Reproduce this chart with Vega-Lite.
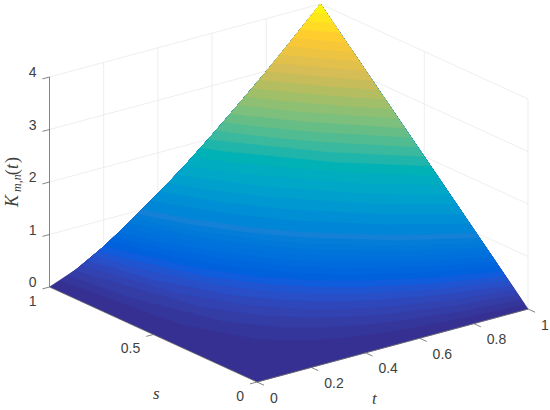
{"$schema":"https://vega.github.io/schema/vega-lite/v6.json","width":550,"height":410,"padding":0,"autosize":"none","background":"white","config":{"view":{"stroke":null}},
"data":{"values":[
{"c":0,"t":0,"s":0,"K":0},{"c":0,"t":1,"s":0,"K":0},{"c":0,"t":1,"s":1,"K":4},{"c":0,"t":0.9,"s":1,"K":3.49},{"c":0,"t":0.8,"s":1,"K":2.99},{"c":0,"t":0.7,"s":1,"K":2.52},{"c":0,"t":0.6,"s":1,"K":2.06},{"c":0,"t":0.5,"s":1,"K":1.62},{"c":0,"t":0.4,"s":1,"K":1.22},{"c":0,"t":0.3,"s":1,"K":0.84},{"c":0,"t":0.2,"s":1,"K":0.49},{"c":0,"t":0.1,"s":1,"K":0.2},{"c":0,"t":0,"s":1,"K":0},
{"c":0.5,"t":1,"s":0.016,"K":0.0625},{"c":0.5,"t":0.8,"s":0.034,"K":0.0625},{"c":0.5,"t":0.6,"s":0.065,"K":0.0625},{"c":0.5,"t":0.5,"s":0.089,"K":0.0625},{"c":0.5,"t":0.4,"s":0.124,"K":0.0625},{"c":0.5,"t":0.3,"s":0.175,"K":0.0625},{"c":0.5,"t":0.2,"s":0.266,"K":0.0625},{"c":0.5,"t":0.1,"s":0.49,"K":0.0625},{"c":0.5,"t":0.0408,"s":1,"K":0.0625},{"c":0.5,"t":0.1,"s":1,"K":0.2},{"c":0.5,"t":0.2,"s":1,"K":0.49},{"c":0.5,"t":0.3,"s":1,"K":0.84},{"c":0.5,"t":0.4,"s":1,"K":1.22},{"c":0.5,"t":0.5,"s":1,"K":1.62},{"c":0.5,"t":0.6,"s":1,"K":2.06},{"c":0.5,"t":0.7,"s":1,"K":2.52},{"c":0.5,"t":0.8,"s":1,"K":2.99},{"c":0.5,"t":0.9,"s":1,"K":3.49},{"c":0.5,"t":1,"s":1,"K":4},
{"c":1,"t":1,"s":0.031,"K":0.125},{"c":1,"t":0.8,"s":0.062,"K":0.125},{"c":1,"t":0.6,"s":0.113,"K":0.125},{"c":1,"t":0.5,"s":0.15,"K":0.125},{"c":1,"t":0.4,"s":0.202,"K":0.125},{"c":1,"t":0.3,"s":0.279,"K":0.125},{"c":1,"t":0.2,"s":0.414,"K":0.125},{"c":1,"t":0.1,"s":0.749,"K":0.125},{"c":1,"t":0.0695,"s":1,"K":0.125},{"c":1,"t":0.1,"s":1,"K":0.2},{"c":1,"t":0.2,"s":1,"K":0.49},{"c":1,"t":0.3,"s":1,"K":0.84},{"c":1,"t":0.4,"s":1,"K":1.22},{"c":1,"t":0.5,"s":1,"K":1.62},{"c":1,"t":0.6,"s":1,"K":2.06},{"c":1,"t":0.7,"s":1,"K":2.52},{"c":1,"t":0.8,"s":1,"K":2.99},{"c":1,"t":0.9,"s":1,"K":3.49},{"c":1,"t":1,"s":1,"K":4},
{"c":1.5,"t":1,"s":0.047,"K":0.1875},{"c":1.5,"t":0.8,"s":0.088,"K":0.1875},{"c":1.5,"t":0.6,"s":0.154,"K":0.1875},{"c":1.5,"t":0.5,"s":0.202,"K":0.1875},{"c":1.5,"t":0.4,"s":0.268,"K":0.1875},{"c":1.5,"t":0.3,"s":0.367,"K":0.1875},{"c":1.5,"t":0.2,"s":0.538,"K":0.1875},{"c":1.5,"t":0.1,"s":0.96,"K":0.1875},{"c":1.5,"t":0.095,"s":1,"K":0.1875},{"c":1.5,"t":0.1,"s":1,"K":0.2},{"c":1.5,"t":0.2,"s":1,"K":0.49},{"c":1.5,"t":0.3,"s":1,"K":0.84},{"c":1.5,"t":0.4,"s":1,"K":1.22},{"c":1.5,"t":0.5,"s":1,"K":1.62},{"c":1.5,"t":0.6,"s":1,"K":2.06},{"c":1.5,"t":0.7,"s":1,"K":2.52},{"c":1.5,"t":0.8,"s":1,"K":2.99},{"c":1.5,"t":0.9,"s":1,"K":3.49},{"c":1.5,"t":1,"s":1,"K":4},
{"c":2,"t":1,"s":0.063,"K":0.25},{"c":2,"t":0.8,"s":0.114,"K":0.25},{"c":2,"t":0.6,"s":0.192,"K":0.25},{"c":2,"t":0.5,"s":0.25,"K":0.25},{"c":2,"t":0.4,"s":0.329,"K":0.25},{"c":2,"t":0.3,"s":0.445,"K":0.25},{"c":2,"t":0.2,"s":0.647,"K":0.25},{"c":2,"t":0.1185,"s":1,"K":0.25},{"c":2,"t":0.2,"s":1,"K":0.49},{"c":2,"t":0.3,"s":1,"K":0.84},{"c":2,"t":0.4,"s":1,"K":1.22},{"c":2,"t":0.5,"s":1,"K":1.62},{"c":2,"t":0.6,"s":1,"K":2.06},{"c":2,"t":0.7,"s":1,"K":2.52},{"c":2,"t":0.8,"s":1,"K":2.99},{"c":2,"t":0.9,"s":1,"K":3.49},{"c":2,"t":1,"s":1,"K":4},
{"c":2.5,"t":1,"s":0.078,"K":0.3125},{"c":2.5,"t":0.8,"s":0.138,"K":0.3125},{"c":2.5,"t":0.6,"s":0.229,"K":0.3125},{"c":2.5,"t":0.5,"s":0.295,"K":0.3125},{"c":2.5,"t":0.4,"s":0.384,"K":0.3125},{"c":2.5,"t":0.3,"s":0.516,"K":0.3125},{"c":2.5,"t":0.2,"s":0.746,"K":0.3125},{"c":2.5,"t":0.1407,"s":1,"K":0.3125},{"c":2.5,"t":0.2,"s":1,"K":0.49},{"c":2.5,"t":0.3,"s":1,"K":0.84},{"c":2.5,"t":0.4,"s":1,"K":1.22},{"c":2.5,"t":0.5,"s":1,"K":1.62},{"c":2.5,"t":0.6,"s":1,"K":2.06},{"c":2.5,"t":0.7,"s":1,"K":2.52},{"c":2.5,"t":0.8,"s":1,"K":2.99},{"c":2.5,"t":0.9,"s":1,"K":3.49},{"c":2.5,"t":1,"s":1,"K":4},
{"c":3,"t":1,"s":0.094,"K":0.375},{"c":3,"t":0.8,"s":0.161,"K":0.375},{"c":3,"t":0.6,"s":0.264,"K":0.375},{"c":3,"t":0.5,"s":0.338,"K":0.375},{"c":3,"t":0.4,"s":0.437,"K":0.375},{"c":3,"t":0.3,"s":0.583,"K":0.375},{"c":3,"t":0.2,"s":0.839,"K":0.375},{"c":3,"t":0.1619,"s":1,"K":0.375},{"c":3,"t":0.2,"s":1,"K":0.49},{"c":3,"t":0.3,"s":1,"K":0.84},{"c":3,"t":0.4,"s":1,"K":1.22},{"c":3,"t":0.5,"s":1,"K":1.62},{"c":3,"t":0.6,"s":1,"K":2.06},{"c":3,"t":0.7,"s":1,"K":2.52},{"c":3,"t":0.8,"s":1,"K":2.99},{"c":3,"t":0.9,"s":1,"K":3.49},{"c":3,"t":1,"s":1,"K":4},
{"c":3.5,"t":1,"s":0.109,"K":0.4375},{"c":3.5,"t":0.8,"s":0.185,"K":0.4375},{"c":3.5,"t":0.6,"s":0.298,"K":0.4375},{"c":3.5,"t":0.5,"s":0.378,"K":0.4375},{"c":3.5,"t":0.4,"s":0.487,"K":0.4375},{"c":3.5,"t":0.3,"s":0.647,"K":0.4375},{"c":3.5,"t":0.2,"s":0.926,"K":0.4375},{"c":3.5,"t":0.1823,"s":1,"K":0.4375},{"c":3.5,"t":0.2,"s":1,"K":0.49},{"c":3.5,"t":0.3,"s":1,"K":0.84},{"c":3.5,"t":0.4,"s":1,"K":1.22},{"c":3.5,"t":0.5,"s":1,"K":1.62},{"c":3.5,"t":0.6,"s":1,"K":2.06},{"c":3.5,"t":0.7,"s":1,"K":2.52},{"c":3.5,"t":0.8,"s":1,"K":2.99},{"c":3.5,"t":0.9,"s":1,"K":3.49},{"c":3.5,"t":1,"s":1,"K":4},
{"c":4,"t":1,"s":0.125,"K":0.5},{"c":4,"t":0.8,"s":0.208,"K":0.5},{"c":4,"t":0.6,"s":0.331,"K":0.5},{"c":4,"t":0.5,"s":0.418,"K":0.5},{"c":4,"t":0.4,"s":0.535,"K":0.5},{"c":4,"t":0.3,"s":0.708,"K":0.5},{"c":4,"t":0.202,"s":1,"K":0.5},{"c":4,"t":0.3,"s":1,"K":0.84},{"c":4,"t":0.4,"s":1,"K":1.22},{"c":4,"t":0.5,"s":1,"K":1.62},{"c":4,"t":0.6,"s":1,"K":2.06},{"c":4,"t":0.7,"s":1,"K":2.52},{"c":4,"t":0.8,"s":1,"K":2.99},{"c":4,"t":0.9,"s":1,"K":3.49},{"c":4,"t":1,"s":1,"K":4},
{"c":4.5,"t":1,"s":0.141,"K":0.5625},{"c":4.5,"t":0.8,"s":0.231,"K":0.5625},{"c":4.5,"t":0.6,"s":0.363,"K":0.5625},{"c":4.5,"t":0.5,"s":0.456,"K":0.5625},{"c":4.5,"t":0.4,"s":0.582,"K":0.5625},{"c":4.5,"t":0.3,"s":0.766,"K":0.5625},{"c":4.5,"t":0.2211,"s":1,"K":0.5625},{"c":4.5,"t":0.3,"s":1,"K":0.84},{"c":4.5,"t":0.4,"s":1,"K":1.22},{"c":4.5,"t":0.5,"s":1,"K":1.62},{"c":4.5,"t":0.6,"s":1,"K":2.06},{"c":4.5,"t":0.7,"s":1,"K":2.52},{"c":4.5,"t":0.8,"s":1,"K":2.99},{"c":4.5,"t":0.9,"s":1,"K":3.49},{"c":4.5,"t":1,"s":1,"K":4},
{"c":5,"t":1,"s":0.156,"K":0.625},{"c":5,"t":0.8,"s":0.253,"K":0.625},{"c":5,"t":0.6,"s":0.395,"K":0.625},{"c":5,"t":0.5,"s":0.493,"K":0.625},{"c":5,"t":0.4,"s":0.626,"K":0.625},{"c":5,"t":0.3,"s":0.822,"K":0.625},{"c":5,"t":0.2398,"s":1,"K":0.625},{"c":5,"t":0.3,"s":1,"K":0.84},{"c":5,"t":0.4,"s":1,"K":1.22},{"c":5,"t":0.5,"s":1,"K":1.62},{"c":5,"t":0.6,"s":1,"K":2.06},{"c":5,"t":0.7,"s":1,"K":2.52},{"c":5,"t":0.8,"s":1,"K":2.99},{"c":5,"t":0.9,"s":1,"K":3.49},{"c":5,"t":1,"s":1,"K":4},
{"c":5.5,"t":1,"s":0.172,"K":0.6875},{"c":5.5,"t":0.8,"s":0.275,"K":0.6875},{"c":5.5,"t":0.6,"s":0.424,"K":0.6875},{"c":5.5,"t":0.5,"s":0.529,"K":0.6875},{"c":5.5,"t":0.4,"s":0.67,"K":0.6875},{"c":5.5,"t":0.3,"s":0.876,"K":0.6875},{"c":5.5,"t":0.2581,"s":1,"K":0.6875},{"c":5.5,"t":0.3,"s":1,"K":0.84},{"c":5.5,"t":0.4,"s":1,"K":1.22},{"c":5.5,"t":0.5,"s":1,"K":1.62},{"c":5.5,"t":0.6,"s":1,"K":2.06},{"c":5.5,"t":0.7,"s":1,"K":2.52},{"c":5.5,"t":0.8,"s":1,"K":2.99},{"c":5.5,"t":0.9,"s":1,"K":3.49},{"c":5.5,"t":1,"s":1,"K":4},
{"c":6,"t":1,"s":0.188,"K":0.75},{"c":6,"t":0.8,"s":0.298,"K":0.75},{"c":6,"t":0.6,"s":0.454,"K":0.75},{"c":6,"t":0.5,"s":0.564,"K":0.75},{"c":6,"t":0.4,"s":0.712,"K":0.75},{"c":6,"t":0.3,"s":0.93,"K":0.75},{"c":6,"t":0.2759,"s":1,"K":0.75},{"c":6,"t":0.3,"s":1,"K":0.84},{"c":6,"t":0.4,"s":1,"K":1.22},{"c":6,"t":0.5,"s":1,"K":1.62},{"c":6,"t":0.6,"s":1,"K":2.06},{"c":6,"t":0.7,"s":1,"K":2.52},{"c":6,"t":0.8,"s":1,"K":2.99},{"c":6,"t":0.9,"s":1,"K":3.49},{"c":6,"t":1,"s":1,"K":4},
{"c":6.5,"t":1,"s":0.203,"K":0.8125},{"c":6.5,"t":0.8,"s":0.319,"K":0.8125},{"c":6.5,"t":0.6,"s":0.484,"K":0.8125},{"c":6.5,"t":0.5,"s":0.598,"K":0.8125},{"c":6.5,"t":0.4,"s":0.753,"K":0.8125},{"c":6.5,"t":0.3,"s":0.98,"K":0.8125},{"c":6.5,"t":0.2934,"s":1,"K":0.8125},{"c":6.5,"t":0.3,"s":1,"K":0.84},{"c":6.5,"t":0.4,"s":1,"K":1.22},{"c":6.5,"t":0.5,"s":1,"K":1.62},{"c":6.5,"t":0.6,"s":1,"K":2.06},{"c":6.5,"t":0.7,"s":1,"K":2.52},{"c":6.5,"t":0.8,"s":1,"K":2.99},{"c":6.5,"t":0.9,"s":1,"K":3.49},{"c":6.5,"t":1,"s":1,"K":4},
{"c":7,"t":1,"s":0.219,"K":0.875},{"c":7,"t":0.8,"s":0.34,"K":0.875},{"c":7,"t":0.6,"s":0.513,"K":0.875},{"c":7,"t":0.5,"s":0.633,"K":0.875},{"c":7,"t":0.4,"s":0.794,"K":0.875},{"c":7,"t":0.3107,"s":1,"K":0.875},{"c":7,"t":0.4,"s":1,"K":1.22},{"c":7,"t":0.5,"s":1,"K":1.62},{"c":7,"t":0.6,"s":1,"K":2.06},{"c":7,"t":0.7,"s":1,"K":2.52},{"c":7,"t":0.8,"s":1,"K":2.99},{"c":7,"t":0.9,"s":1,"K":3.49},{"c":7,"t":1,"s":1,"K":4},
{"c":7.5,"t":1,"s":0.234,"K":0.9375},{"c":7.5,"t":0.8,"s":0.362,"K":0.9375},{"c":7.5,"t":0.6,"s":0.541,"K":0.9375},{"c":7.5,"t":0.5,"s":0.665,"K":0.9375},{"c":7.5,"t":0.4,"s":0.833,"K":0.9375},{"c":7.5,"t":0.3276,"s":1,"K":0.9375},{"c":7.5,"t":0.4,"s":1,"K":1.22},{"c":7.5,"t":0.5,"s":1,"K":1.62},{"c":7.5,"t":0.6,"s":1,"K":2.06},{"c":7.5,"t":0.7,"s":1,"K":2.52},{"c":7.5,"t":0.8,"s":1,"K":2.99},{"c":7.5,"t":0.9,"s":1,"K":3.49},{"c":7.5,"t":1,"s":1,"K":4},
{"c":8,"t":1,"s":0.25,"K":1},{"c":8,"t":0.8,"s":0.382,"K":1},{"c":8,"t":0.6,"s":0.569,"K":1},{"c":8,"t":0.5,"s":0.698,"K":1},{"c":8,"t":0.4,"s":0.872,"K":1},{"c":8,"t":0.3443,"s":1,"K":1},{"c":8,"t":0.4,"s":1,"K":1.22},{"c":8,"t":0.5,"s":1,"K":1.62},{"c":8,"t":0.6,"s":1,"K":2.06},{"c":8,"t":0.7,"s":1,"K":2.52},{"c":8,"t":0.8,"s":1,"K":2.99},{"c":8,"t":0.9,"s":1,"K":3.49},{"c":8,"t":1,"s":1,"K":4},
{"c":9,"t":1,"s":0.281,"K":1.125},{"c":9,"t":0.8,"s":0.424,"K":1.125},{"c":9,"t":0.6,"s":0.623,"K":1.125},{"c":9,"t":0.5,"s":0.761,"K":1.125},{"c":9,"t":0.4,"s":0.947,"K":1.125},{"c":9,"t":0.3769,"s":1,"K":1.125},{"c":9,"t":0.4,"s":1,"K":1.22},{"c":9,"t":0.5,"s":1,"K":1.62},{"c":9,"t":0.6,"s":1,"K":2.06},{"c":9,"t":0.7,"s":1,"K":2.52},{"c":9,"t":0.8,"s":1,"K":2.99},{"c":9,"t":0.9,"s":1,"K":3.49},{"c":9,"t":1,"s":1,"K":4},
{"c":10,"t":1,"s":0.313,"K":1.25},{"c":10,"t":0.8,"s":0.465,"K":1.25},{"c":10,"t":0.6,"s":0.677,"K":1.25},{"c":10,"t":0.5,"s":0.823,"K":1.25},{"c":10,"t":0.4087,"s":1,"K":1.25},{"c":10,"t":0.5,"s":1,"K":1.62},{"c":10,"t":0.6,"s":1,"K":2.06},{"c":10,"t":0.7,"s":1,"K":2.52},{"c":10,"t":0.8,"s":1,"K":2.99},{"c":10,"t":0.9,"s":1,"K":3.49},{"c":10,"t":1,"s":1,"K":4},
{"c":11,"t":1,"s":0.344,"K":1.375},{"c":11,"t":0.8,"s":0.506,"K":1.375},{"c":11,"t":0.6,"s":0.73,"K":1.375},{"c":11,"t":0.5,"s":0.883,"K":1.375},{"c":11,"t":0.4398,"s":1,"K":1.375},{"c":11,"t":0.5,"s":1,"K":1.62},{"c":11,"t":0.6,"s":1,"K":2.06},{"c":11,"t":0.7,"s":1,"K":2.52},{"c":11,"t":0.8,"s":1,"K":2.99},{"c":11,"t":0.9,"s":1,"K":3.49},{"c":11,"t":1,"s":1,"K":4},
{"c":12,"t":1,"s":0.375,"K":1.5},{"c":12,"t":0.8,"s":0.546,"K":1.5},{"c":12,"t":0.6,"s":0.781,"K":1.5},{"c":12,"t":0.5,"s":0.943,"K":1.5},{"c":12,"t":0.4703,"s":1,"K":1.5},{"c":12,"t":0.5,"s":1,"K":1.62},{"c":12,"t":0.6,"s":1,"K":2.06},{"c":12,"t":0.7,"s":1,"K":2.52},{"c":12,"t":0.8,"s":1,"K":2.99},{"c":12,"t":0.9,"s":1,"K":3.49},{"c":12,"t":1,"s":1,"K":4},
{"c":13,"t":1,"s":0.406,"K":1.625},{"c":13,"t":0.8,"s":0.585,"K":1.625},{"c":13,"t":0.6,"s":0.831,"K":1.625},{"c":13,"t":0.5001,"s":1,"K":1.625},{"c":13,"t":0.6,"s":1,"K":2.06},{"c":13,"t":0.7,"s":1,"K":2.52},{"c":13,"t":0.8,"s":1,"K":2.99},{"c":13,"t":0.9,"s":1,"K":3.49},{"c":13,"t":1,"s":1,"K":4},
{"c":14,"t":1,"s":0.438,"K":1.75},{"c":14,"t":0.8,"s":0.625,"K":1.75},{"c":14,"t":0.6,"s":0.881,"K":1.75},{"c":14,"t":0.5295,"s":1,"K":1.75},{"c":14,"t":0.6,"s":1,"K":2.06},{"c":14,"t":0.7,"s":1,"K":2.52},{"c":14,"t":0.8,"s":1,"K":2.99},{"c":14,"t":0.9,"s":1,"K":3.49},{"c":14,"t":1,"s":1,"K":4},
{"c":15,"t":1,"s":0.469,"K":1.875},{"c":15,"t":0.8,"s":0.664,"K":1.875},{"c":15,"t":0.6,"s":0.93,"K":1.875},{"c":15,"t":0.5583,"s":1,"K":1.875},{"c":15,"t":0.6,"s":1,"K":2.06},{"c":15,"t":0.7,"s":1,"K":2.52},{"c":15,"t":0.8,"s":1,"K":2.99},{"c":15,"t":0.9,"s":1,"K":3.49},{"c":15,"t":1,"s":1,"K":4},
{"c":16,"t":1,"s":0.5,"K":2},{"c":16,"t":0.8,"s":0.703,"K":2},{"c":16,"t":0.6,"s":0.978,"K":2},{"c":16,"t":0.5867,"s":1,"K":2},{"c":16,"t":0.6,"s":1,"K":2.06},{"c":16,"t":0.7,"s":1,"K":2.52},{"c":16,"t":0.8,"s":1,"K":2.99},{"c":16,"t":0.9,"s":1,"K":3.49},{"c":16,"t":1,"s":1,"K":4},
{"c":17,"t":1,"s":0.531,"K":2.125},{"c":17,"t":0.8,"s":0.741,"K":2.125},{"c":17,"t":0.7,"s":0.87,"K":2.125},{"c":17,"t":0.6148,"s":1,"K":2.125},{"c":17,"t":0.7,"s":1,"K":2.52},{"c":17,"t":0.8,"s":1,"K":2.99},{"c":17,"t":0.9,"s":1,"K":3.49},{"c":17,"t":1,"s":1,"K":4},
{"c":18,"t":1,"s":0.563,"K":2.25},{"c":18,"t":0.8,"s":0.779,"K":2.25},{"c":18,"t":0.7,"s":0.911,"K":2.25},{"c":18,"t":0.6424,"s":1,"K":2.25},{"c":18,"t":0.7,"s":1,"K":2.52},{"c":18,"t":0.8,"s":1,"K":2.99},{"c":18,"t":0.9,"s":1,"K":3.49},{"c":18,"t":1,"s":1,"K":4},
{"c":19,"t":1,"s":0.594,"K":2.375},{"c":19,"t":0.8,"s":0.817,"K":2.375},{"c":19,"t":0.7,"s":0.953,"K":2.375},{"c":19,"t":0.6697,"s":1,"K":2.375},{"c":19,"t":0.7,"s":1,"K":2.52},{"c":19,"t":0.8,"s":1,"K":2.99},{"c":19,"t":0.9,"s":1,"K":3.49},{"c":19,"t":1,"s":1,"K":4},
{"c":20,"t":1,"s":0.625,"K":2.5},{"c":20,"t":0.8,"s":0.855,"K":2.5},{"c":20,"t":0.7,"s":0.995,"K":2.5},{"c":20,"t":0.6966,"s":1,"K":2.5},{"c":20,"t":0.7,"s":1,"K":2.52},{"c":20,"t":0.8,"s":1,"K":2.99},{"c":20,"t":0.9,"s":1,"K":3.49},{"c":20,"t":1,"s":1,"K":4},
{"c":21,"t":1,"s":0.656,"K":2.625},{"c":21,"t":0.9,"s":0.767,"K":2.625},{"c":21,"t":0.8,"s":0.891,"K":2.625},{"c":21,"t":0.7232,"s":1,"K":2.625},{"c":21,"t":0.8,"s":1,"K":2.99},{"c":21,"t":0.9,"s":1,"K":3.49},{"c":21,"t":1,"s":1,"K":4},
{"c":22,"t":1,"s":0.688,"K":2.75},{"c":22,"t":0.9,"s":0.801,"K":2.75},{"c":22,"t":0.8,"s":0.929,"K":2.75},{"c":22,"t":0.7496,"s":1,"K":2.75},{"c":22,"t":0.8,"s":1,"K":2.99},{"c":22,"t":0.9,"s":1,"K":3.49},{"c":22,"t":1,"s":1,"K":4},
{"c":23,"t":1,"s":0.719,"K":2.875},{"c":23,"t":0.9,"s":0.834,"K":2.875},{"c":23,"t":0.8,"s":0.966,"K":2.875},{"c":23,"t":0.7757,"s":1,"K":2.875},{"c":23,"t":0.8,"s":1,"K":2.99},{"c":23,"t":0.9,"s":1,"K":3.49},{"c":23,"t":1,"s":1,"K":4},
{"c":24,"t":1,"s":0.75,"K":3},{"c":24,"t":0.9,"s":0.868,"K":3},{"c":24,"t":0.8015,"s":1,"K":3},{"c":24,"t":0.9,"s":1,"K":3.49},{"c":24,"t":1,"s":1,"K":4},
{"c":25,"t":1,"s":0.781,"K":3.125},{"c":25,"t":0.9,"s":0.902,"K":3.125},{"c":25,"t":0.827,"s":1,"K":3.125},{"c":25,"t":0.9,"s":1,"K":3.49},{"c":25,"t":1,"s":1,"K":4},
{"c":26,"t":1,"s":0.813,"K":3.25},{"c":26,"t":0.9,"s":0.936,"K":3.25},{"c":26,"t":0.8524,"s":1,"K":3.25},{"c":26,"t":0.9,"s":1,"K":3.49},{"c":26,"t":1,"s":1,"K":4},
{"c":27,"t":1,"s":0.844,"K":3.375},{"c":27,"t":0.9,"s":0.97,"K":3.375},{"c":27,"t":0.8775,"s":1,"K":3.375},{"c":27,"t":0.9,"s":1,"K":3.49},{"c":27,"t":1,"s":1,"K":4},
{"c":28,"t":1,"s":0.875,"K":3.5},{"c":28,"t":0.9024,"s":1,"K":3.5},{"c":28,"t":1,"s":1,"K":4},
{"c":29,"t":1,"s":0.906,"K":3.625},{"c":29,"t":0.9271,"s":1,"K":3.625},{"c":29,"t":1,"s":1,"K":4},
{"c":30,"t":1,"s":0.938,"K":3.75},{"c":30,"t":0.9516,"s":1,"K":3.75},{"c":30,"t":1,"s":1,"K":4},
{"c":31,"t":1,"s":0.969,"K":3.875},{"c":31,"t":0.9759,"s":1,"K":3.875},{"c":31,"t":1,"s":1,"K":4},

{"g":"grid","id":"a1","t":0,"s":1,"K":1},{"g":"grid","id":"a1","t":1,"s":1,"K":1},
{"g":"grid","id":"a2","t":0,"s":1,"K":2},{"g":"grid","id":"a2","t":1,"s":1,"K":2},
{"g":"grid","id":"a3","t":0,"s":1,"K":3},{"g":"grid","id":"a3","t":1,"s":1,"K":3},
{"g":"grid","id":"a4","t":0,"s":1,"K":4},{"g":"grid","id":"a4","t":1,"s":1,"K":4},
{"g":"grid","id":"b1","t":1,"s":1,"K":1},{"g":"grid","id":"b1","t":1,"s":0,"K":1},
{"g":"grid","id":"b2","t":1,"s":1,"K":2},{"g":"grid","id":"b2","t":1,"s":0,"K":2},
{"g":"grid","id":"b3","t":1,"s":1,"K":3},{"g":"grid","id":"b3","t":1,"s":0,"K":3},
{"g":"grid","id":"b4","t":1,"s":1,"K":4},{"g":"grid","id":"b4","t":1,"s":0,"K":4},
{"g":"grid","id":"c1","t":0.2,"s":1,"K":0},{"g":"grid","id":"c1","t":0.2,"s":1,"K":4},
{"g":"grid","id":"c2","t":0.4,"s":1,"K":0},{"g":"grid","id":"c2","t":0.4,"s":1,"K":4},
{"g":"grid","id":"c3","t":0.6,"s":1,"K":0},{"g":"grid","id":"c3","t":0.6,"s":1,"K":4},
{"g":"grid","id":"c4","t":0.8,"s":1,"K":0},{"g":"grid","id":"c4","t":0.8,"s":1,"K":4},
{"g":"grid","id":"d1","t":1,"s":0.5,"K":0},{"g":"grid","id":"d1","t":1,"s":0.5,"K":4},
{"g":"grid","id":"d2","t":1,"s":0,"K":0},{"g":"grid","id":"d2","t":1,"s":0,"K":4},

{"g":"axis","id":"z","t":0,"s":1,"K":0},{"g":"axis","id":"z","t":0,"s":1,"K":4},
{"g":"axis","id":"sa","t":0,"s":0,"K":0},{"g":"axis","id":"sa","t":0,"s":1,"K":0},
{"g":"axis","id":"ta","t":0,"s":0,"K":0},{"g":"axis","id":"ta","t":1,"s":0,"K":0},
{"g":"axis","id":"z0","t":0,"s":1,"K":0},{"g":"axis","id":"z0","t":-0.026,"s":1,"K":0},
{"g":"axis","id":"z1","t":0,"s":1,"K":1},{"g":"axis","id":"z1","t":-0.026,"s":1,"K":1},
{"g":"axis","id":"z2","t":0,"s":1,"K":2},{"g":"axis","id":"z2","t":-0.026,"s":1,"K":2},
{"g":"axis","id":"z3","t":0,"s":1,"K":3},{"g":"axis","id":"z3","t":-0.026,"s":1,"K":3},
{"g":"axis","id":"z4","t":0,"s":1,"K":4},{"g":"axis","id":"z4","t":-0.026,"s":1,"K":4},
{"g":"axis","id":"s0","t":0,"s":0,"K":0},{"g":"axis","id":"s0","t":-0.026,"s":0,"K":0},
{"g":"axis","id":"s5","t":0,"s":0.5,"K":0},{"g":"axis","id":"s5","t":-0.026,"s":0.5,"K":0},
{"g":"axis","id":"t0","t":0,"s":0,"K":0},{"g":"axis","id":"t0","t":0,"s":-0.034,"K":0},
{"g":"axis","id":"t2","t":0.2,"s":0,"K":0},{"g":"axis","id":"t2","t":0.2,"s":-0.034,"K":0},
{"g":"axis","id":"t4","t":0.4,"s":0,"K":0},{"g":"axis","id":"t4","t":0.4,"s":-0.034,"K":0},
{"g":"axis","id":"t6","t":0.6,"s":0,"K":0},{"g":"axis","id":"t6","t":0.6,"s":-0.034,"K":0},
{"g":"axis","id":"t8","t":0.8,"s":0,"K":0},{"g":"axis","id":"t8","t":0.8,"s":-0.034,"K":0},
{"g":"axis","id":"t10","t":1,"s":0,"K":0},{"g":"axis","id":"t10","t":1,"s":-0.034,"K":0},

{"g":"zl","label":"0","t":0,"s":1,"K":0},{"g":"zl","label":"1","t":0,"s":1,"K":1},{"g":"zl","label":"2","t":0,"s":1,"K":2},{"g":"zl","label":"3","t":0,"s":1,"K":3},{"g":"zl","label":"4","t":0,"s":1,"K":4},
{"g":"sl","label":"0","t":0,"s":0,"K":0},{"g":"sl","label":"0.5","t":0,"s":0.5,"K":0},{"g":"sl","label":"1","t":0,"s":1,"K":0},
{"g":"tl","label":"0","t":0,"s":0,"K":0},{"g":"tl","label":"0.2","t":0.2,"s":0,"K":0},{"g":"tl","label":"0.4","t":0.4,"s":0,"K":0},{"g":"tl","label":"0.6","t":0.6,"s":0,"K":0},{"g":"tl","label":"0.8","t":0.8,"s":0,"K":0},{"g":"tl","label":"1","t":1,"s":0,"K":0},
{"g":"st","label":"s","t":0,"s":0.5,"K":0},
{"g":"tt","label":"t","t":0.4,"s":0,"K":0},
{"g":"k1","label":"K","t":0,"s":1,"K":1.524},
{"g":"k2","label":"m,n","t":0,"s":1,"K":1.81},
{"g":"k3","label":"(","t":0,"s":1,"K":2.13},
{"g":"k1","label":"t","t":0,"s":1,"K":2.25},
{"g":"k3","label":")","t":0,"s":1,"K":2.36}
]},
"transform":[
{"window":[{"op":"row_number","as":"rowOrder"}]},
{"calculate":"257+271*datum.t-207.5*datum.s","as":"px"},
{"calculate":"382-73*datum.t-95*datum.s-52.5*datum.K","as":"py"}
],
"encoding":{
"x":{"field":"px","type":"quantitative","scale":{"domain":[0,550],"nice":false,"zero":false},"axis":null},
"y":{"field":"py","type":"quantitative","scale":{"domain":[410,0],"nice":false,"zero":false},"axis":null}
},
"layer":[
{"transform":[{"filter":"datum.g=='grid'"}],"mark":{"type":"line","stroke":"#e6e6e6","strokeWidth":0.7},"encoding":{"detail":{"field":"id"},"order":{"field":"rowOrder","type":"quantitative"}}},
{"transform":[{"filter":"isValid(datum.c)"}],"mark":{"type":"line","strokeWidth":0.6},"encoding":{
"order":{"field":"rowOrder","type":"quantitative"},
"fill":{"field":"c","type":"quantitative","legend":null,"scale":{"domain":[-0.5,3.5,7.5,11.5,15.5,19.5,23.5,27.5,31.5],"range":["#352a87","#0f5cdd","#1481d6","#06a4ca","#2eb7a4","#87bf77","#d1bb59","#fec832","#f9fb0e"]}},
"stroke":{"field":"c","type":"quantitative","legend":null,"scale":{"domain":[-0.5,3.5,7.5,11.5,15.5,19.5,23.5,27.5,31.5],"range":["#352a87","#0f5cdd","#1481d6","#06a4ca","#2eb7a4","#87bf77","#d1bb59","#fec832","#f9fb0e"]}}
}},
{"transform":[{"filter":"datum.g=='axis'"}],"mark":{"type":"line","stroke":"#666666","strokeWidth":0.8},"encoding":{"detail":{"field":"id"},"order":{"field":"rowOrder","type":"quantitative"}}},
{"transform":[{"filter":"datum.g=='zl'"}],"mark":{"type":"text","font":"Liberation Sans","fontSize":14,"fill":"#404040","align":"right","baseline":"middle","dx":-13,"dy":-4},"encoding":{"text":{"field":"label"}}},
{"transform":[{"filter":"datum.g=='sl'"}],"mark":{"type":"text","font":"Liberation Sans","fontSize":14,"fill":"#404040","align":"right","baseline":"middle","dx":-13,"dy":14.5},"encoding":{"text":{"field":"label"}}},
{"transform":[{"filter":"datum.g=='tl'"}],"mark":{"type":"text","font":"Liberation Sans","fontSize":14,"fill":"#404040","align":"left","baseline":"middle","dx":13,"dy":16.5},"encoding":{"text":{"field":"label"}}},
{"transform":[{"filter":"datum.g=='st'"}],"mark":{"type":"text","font":"Liberation Serif","fontStyle":"italic","fontSize":17,"fill":"#404040","align":"center","baseline":"middle","dx":3,"dy":59},"encoding":{"text":{"field":"label"}}},
{"transform":[{"filter":"datum.g=='tt'"}],"mark":{"type":"text","font":"Liberation Serif","fontStyle":"italic","fontSize":17,"fill":"#404040","align":"center","baseline":"middle","dx":9,"dy":46},"encoding":{"text":{"field":"label"}}},
{"transform":[{"filter":"datum.g=='k1'"}],"mark":{"type":"text","font":"Liberation Serif","fontStyle":"italic","fontSize":18,"fill":"#404040","align":"left","baseline":"alphabetic","angle":270,"dy":-31.5},"encoding":{"text":{"field":"label"}}},
{"transform":[{"filter":"datum.g=='k2'"}],"mark":{"type":"text","font":"Liberation Serif","fontStyle":"italic","fontSize":12,"fill":"#404040","align":"left","baseline":"alphabetic","angle":270,"dy":-28.5},"encoding":{"text":{"field":"label"}}},
{"transform":[{"filter":"datum.g=='k3'"}],"mark":{"type":"text","font":"Liberation Serif","fontSize":18,"fill":"#404040","align":"left","baseline":"alphabetic","angle":270,"dy":-31.5},"encoding":{"text":{"field":"label"}}}
]}
